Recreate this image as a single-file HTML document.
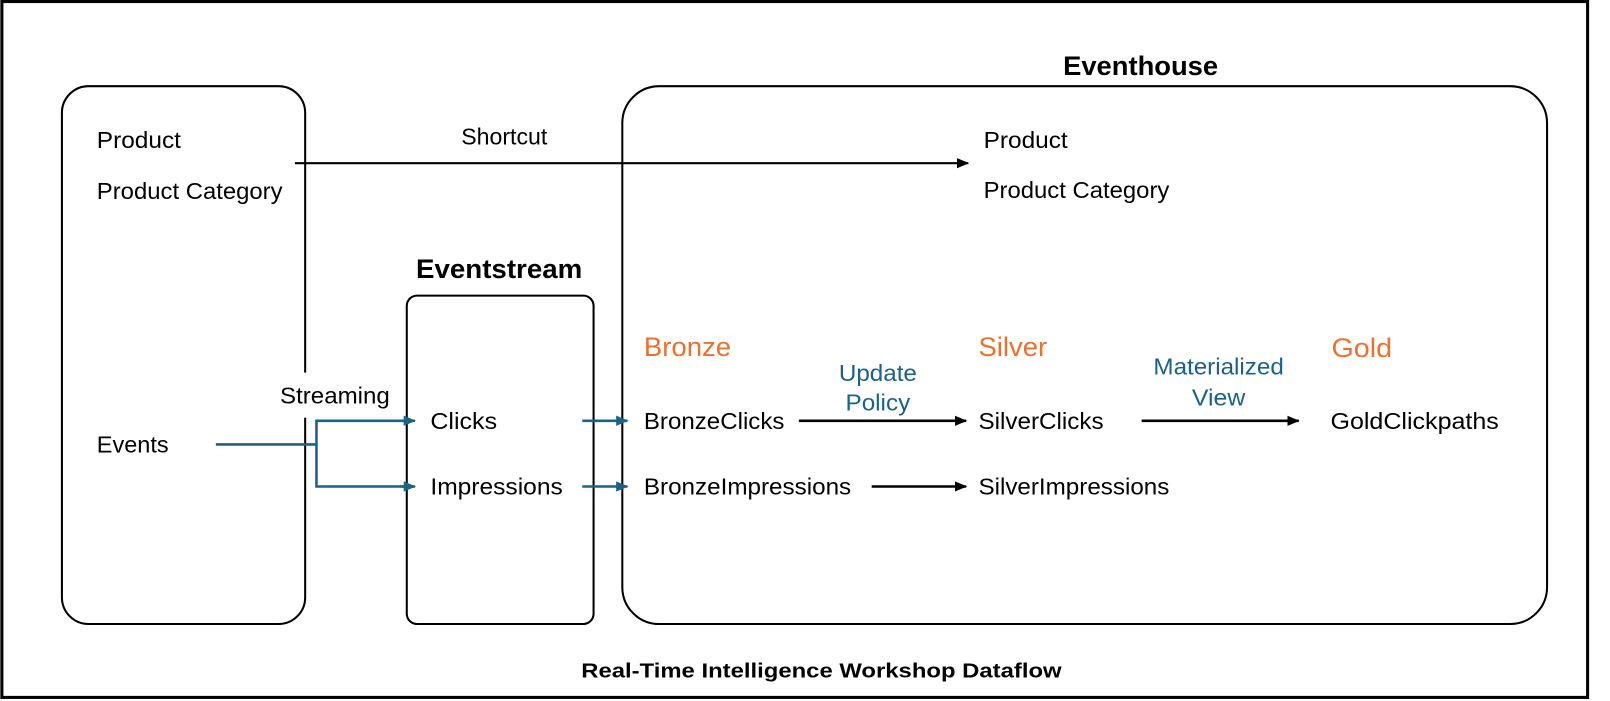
<!DOCTYPE html>
<html><head><meta charset="utf-8"><style>
html,body{margin:0;padding:0;background:#fff;}
svg{display:block;}
text{font-family:"Liberation Sans",sans-serif;}
</style></head><body>
<svg width="1610" height="701" viewBox="0 0 1568 683" xmlns="http://www.w3.org/2000/svg">
<defs>
<marker id="ab" markerWidth="12" markerHeight="12" refX="11" refY="6" orient="auto" markerUnits="userSpaceOnUse"><path d="M0,1 L12,6 L0,11 z" fill="#000"/></marker>
<marker id="ablue" markerWidth="12" markerHeight="12" refX="11" refY="6" orient="auto" markerUnits="userSpaceOnUse"><path d="M0,1 L12,6 L0,11 z" fill="#1d6185"/></marker>
</defs>
<rect x="1.5" y="1.5" width="1545" height="678" fill="#fff" stroke="#000" stroke-width="3"/>
<rect x="60" y="84" width="237" height="524" rx="26" fill="none" stroke="#000" stroke-width="2"/>
<rect x="396" y="288" width="182" height="320" rx="10" fill="none" stroke="#000" stroke-width="2"/>
<rect x="606" y="84" width="901" height="524" rx="36" fill="none" stroke="#000" stroke-width="2"/>
<rect x="290" y="363" width="14" height="44" fill="#fff"/>
<text x="1111" y="73" font-size="26" font-weight="bold" text-anchor="middle" textLength="151" lengthAdjust="spacingAndGlyphs">Eventhouse</text>
<text x="486" y="271" font-size="26" font-weight="bold" text-anchor="middle" textLength="162" lengthAdjust="spacingAndGlyphs">Eventstream</text>
<line x1="287" y1="159" x2="943" y2="159" stroke="#000" stroke-width="2" marker-end="url(#ab)"/>
<g font-size="22.5">
<text x="491" y="141" text-anchor="middle">Shortcut</text>
<text x="94" y="144" textLength="82" lengthAdjust="spacingAndGlyphs">Product</text>
<text x="94" y="194" textLength="181" lengthAdjust="spacingAndGlyphs">Product Category</text>
<text x="958" y="144" textLength="82" lengthAdjust="spacingAndGlyphs">Product</text>
<text x="958" y="193" textLength="181" lengthAdjust="spacingAndGlyphs">Product Category</text>
<text x="326" y="393" text-anchor="middle" textLength="107" lengthAdjust="spacingAndGlyphs">Streaming</text>
<text x="94" y="441" textLength="70" lengthAdjust="spacingAndGlyphs">Events</text>
<text x="419" y="418" textLength="65" lengthAdjust="spacingAndGlyphs">Clicks</text>
<text x="419" y="482" textLength="129" lengthAdjust="spacingAndGlyphs">Impressions</text>
<text x="627" y="418" textLength="137" lengthAdjust="spacingAndGlyphs">BronzeClicks</text>
<text x="953" y="418" textLength="122" lengthAdjust="spacingAndGlyphs">SilverClicks</text>
<text x="1296" y="418" textLength="164" lengthAdjust="spacingAndGlyphs">GoldClickpaths</text>
<text x="627" y="482" textLength="202" lengthAdjust="spacingAndGlyphs">BronzeImpressions</text>
<text x="953" y="482" textLength="186" lengthAdjust="spacingAndGlyphs">SilverImpressions</text>
</g>
<g stroke="#1d6185" stroke-width="2.5" fill="none">
<line x1="210" y1="433" x2="308" y2="433"/>
<polyline points="400,410 308,410 308,474 400,474"/>
<line x1="390" y1="410" x2="404" y2="410" marker-end="url(#ablue)"/>
<line x1="390" y1="474" x2="404" y2="474" marker-end="url(#ablue)"/>
<line x1="567" y1="410" x2="611" y2="410" marker-end="url(#ablue)"/>
<line x1="567" y1="474" x2="611" y2="474" marker-end="url(#ablue)"/>
</g>
<g fill="#e97132" font-size="26">
<text x="627" y="347" textLength="85" lengthAdjust="spacingAndGlyphs">Bronze</text>
<text x="953" y="347" textLength="67" lengthAdjust="spacingAndGlyphs">Silver</text>
<text x="1297" y="348" textLength="59" lengthAdjust="spacingAndGlyphs">Gold</text>
</g>
<g stroke="#000" stroke-width="2.5">
<line x1="778" y1="410" x2="941" y2="410" marker-end="url(#ab)"/>
<line x1="1112" y1="410" x2="1265" y2="410" marker-end="url(#ab)"/>
<line x1="849" y1="474" x2="941" y2="474" marker-end="url(#ab)"/>
</g>
<g fill="#1d6185" font-size="22.5" text-anchor="middle">
<text x="855" y="371" textLength="76" lengthAdjust="spacingAndGlyphs">Update</text>
<text x="855" y="400" textLength="63" lengthAdjust="spacingAndGlyphs">Policy</text>
<text x="1187" y="365" textLength="127" lengthAdjust="spacingAndGlyphs">Materialized</text>
<text x="1187" y="395" textLength="52" lengthAdjust="spacingAndGlyphs">View</text>
</g>
<text x="800" y="660" font-size="20" font-weight="bold" text-anchor="middle" textLength="468" lengthAdjust="spacingAndGlyphs">Real-Time Intelligence Workshop Dataflow</text>
</svg>
</body></html>
